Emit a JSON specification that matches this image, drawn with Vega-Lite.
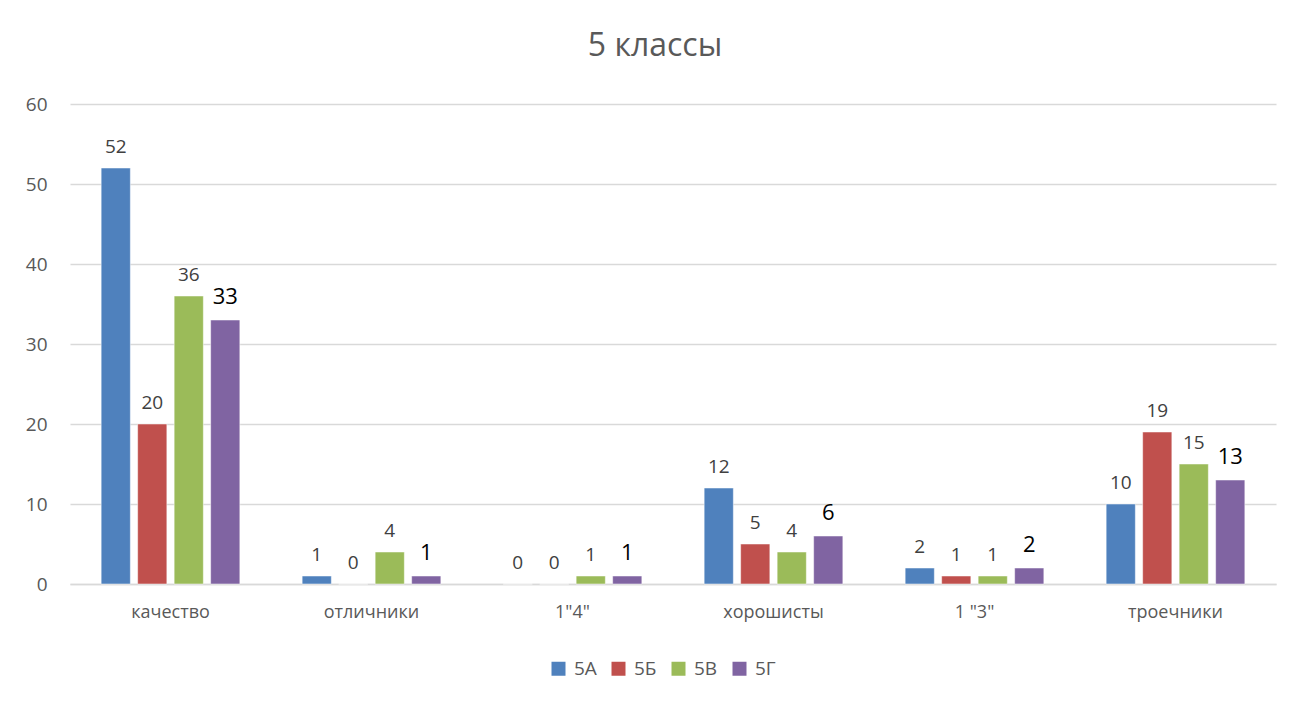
{
  "$schema": "https://vega.github.io/schema/vega-lite/v6.json",
  "width": 1206,
  "height": 480,
  "autosize": {"type": "none"},
  "padding": {"left": 70, "top": 104, "right": 34, "bottom": 118},
  "background": "white",
  "title": {
    "text": "5 классы",
    "fontSize": 32,
    "font": "Open Sans",
    "fontWeight": "normal",
    "color": "#595959",
    "anchor": "middle",
    "dx": -18,
    "offset": 32
  },
  "data": {
    "values": [
      {"cat": "качество", "cls": "5А", "v": 52},
      {"cat": "качество", "cls": "5Б", "v": 20},
      {"cat": "качество", "cls": "5В", "v": 36},
      {"cat": "качество", "cls": "5Г", "v": 33},
      {"cat": "отличники", "cls": "5А", "v": 1},
      {"cat": "отличники", "cls": "5Б", "v": 0},
      {"cat": "отличники", "cls": "5В", "v": 4},
      {"cat": "отличники", "cls": "5Г", "v": 1},
      {"cat": "1\"4\"", "cls": "5А", "v": 0},
      {"cat": "1\"4\"", "cls": "5Б", "v": 0},
      {"cat": "1\"4\"", "cls": "5В", "v": 1},
      {"cat": "1\"4\"", "cls": "5Г", "v": 1},
      {"cat": "хорошисты", "cls": "5А", "v": 12},
      {"cat": "хорошисты", "cls": "5Б", "v": 5},
      {"cat": "хорошисты", "cls": "5В", "v": 4},
      {"cat": "хорошисты", "cls": "5Г", "v": 6},
      {"cat": "1 \"3\"", "cls": "5А", "v": 2},
      {"cat": "1 \"3\"", "cls": "5Б", "v": 1},
      {"cat": "1 \"3\"", "cls": "5В", "v": 1},
      {"cat": "1 \"3\"", "cls": "5Г", "v": 2},
      {"cat": "троечники", "cls": "5А", "v": 10},
      {"cat": "троечники", "cls": "5Б", "v": 19},
      {"cat": "троечники", "cls": "5В", "v": 15},
      {"cat": "троечники", "cls": "5Г", "v": 13}
    ]
  },
  "encoding": {
    "x": {
      "field": "cat",
      "type": "nominal",
      "sort": null,
      "title": null,
      "scale": {"paddingInner": 0.31, "paddingOuter": 0.155},
      "axis": {
        "labelAngle": 0,
        "labelFontSize": 18,
        "labelFont": "Open Sans",
        "labelColor": "#595959",
        "labelPadding": 19,
        "ticks": false,
        "domainColor": "#d9d9d9",
        "domainWidth": 1.5,
        "grid": false
      }
    },
    "xOffset": {
      "field": "cls",
      "type": "nominal",
      "sort": ["5А", "5Б", "5В", "5Г"],
      "scale": {"paddingInner": 0.2, "paddingOuter": 0}
    },
    "y": {
      "field": "v",
      "type": "quantitative",
      "title": null,
      "scale": {"domain": [0, 60], "nice": false},
      "axis": {
        "values": [0, 10, 20, 30, 40, 50, 60],
        "labelFontSize": 19,
        "labelFont": "Open Sans",
        "labelColor": "#595959",
        "labelPadding": 23,
        "ticks": false,
        "domain": false,
        "gridColor": "#d9d9d9",
        "gridWidth": 1.5
      }
    }
  },
  "layer": [
    {
      "mark": {"type": "bar", "stroke": "white", "strokeWidth": 0.5},
      "encoding": {
        "color": {
          "field": "cls",
          "type": "nominal",
          "sort": ["5А", "5Б", "5В", "5Г"],
          "scale": {
            "domain": ["5А", "5Б", "5В", "5Г"],
            "range": ["#4F81BD", "#C0504D", "#9BBB59", "#8064A2"]
          },
          "legend": {
            "title": null,
            "orient": "none",
            "direction": "horizontal",
            "legendX": 479,
            "legendY": 555,
            "symbolType": "square",
            "symbolSize": 196,
            "symbolStrokeWidth": 0,
            "labelFontSize": 19,
            "labelFont": "Open Sans",
            "labelColor": "#595959",
            "labelOffset": 6,
            "columnPadding": 12,
            "padding": 0
          }
        }
      }
    },
    {
      "transform": [{"filter": "datum.cls != '5Г'"}],
      "mark": {
        "type": "text",
        "baseline": "bottom",
        "dy": -11,
        "fontSize": 19,
        "font": "Open Sans",
        "color": "#404040"
      },
      "encoding": {"text": {"field": "v", "type": "quantitative"}}
    },
    {
      "transform": [{"filter": "datum.cls == '5Г'"}],
      "mark": {
        "type": "text",
        "baseline": "bottom",
        "dy": -11,
        "fontSize": 22,
        "font": "Open Sans",
        "color": "#000000"
      },
      "encoding": {"text": {"field": "v", "type": "quantitative"}}
    }
  ],
  "config": {
    "view": {"stroke": null}
  }
}
